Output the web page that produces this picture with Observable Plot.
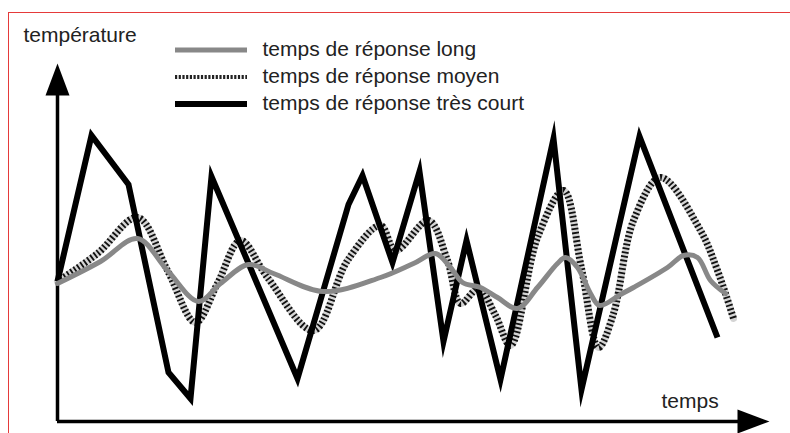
<!DOCTYPE html>
<html><head><meta charset="utf-8">
<script src="https://cdn.jsdelivr.net/npm/d3@7"></script>
<script src="https://cdn.jsdelivr.net/npm/@observablehq/plot@0.6"></script>
<style>
html,body{margin:0;padding:0;background:#fff;}
#wrap{position:relative;width:790px;height:433px;overflow:hidden;background:#fff;}
#frame{position:absolute;left:8px;top:12px;width:800px;height:440px;border-top:1px solid #e53a3a;border-left:1px solid #e53a3a;pointer-events:none;}
#chart{position:absolute;left:0;top:0;}
</style></head><body>
<div id="wrap"><div id="chart"></div><div id="frame"></div></div>
<script>
// Series names and axis labels
const seriesNames = ["temps de réponse long", "temps de réponse moyen", "temps de réponse très court"];
const yLabel = "température";
const xLabel = "temps";

// "très court" response (time, temperature) – arbitrary units
const courtT = [0, 34, 71, 111, 133, 154, 240, 291, 305, 335, 362, 386, 409, 443, 496, 524, 582, 660];
const courtV = [140, 286, 237, 49, 23, 245, 43, 217, 246, 159, 250, 80, 181, 42, 283, 32, 285, 84];

// "moyen" response
const moyenT = [0, 40, 80, 110, 138, 160, 183, 210, 256, 290, 323, 338, 371, 390, 403, 421, 438, 453, 480, 506, 524, 541, 556, 576, 603, 643, 660, 676];
const moyenV = [140, 168, 204, 151, 99, 138, 181, 144, 91, 161, 196, 171, 201, 161, 118, 133, 106, 76, 184, 231, 153, 74, 108, 201, 244, 191, 151, 103];

// "long" response
const longT = [0, 43, 80, 110, 141, 163, 191, 216, 266, 323, 356, 378, 393, 405, 423, 440, 460, 480, 500, 508, 520, 533, 542, 563, 576, 610, 626, 640, 653, 668];
const longV = [138, 160, 183, 151, 120, 138, 157, 148, 130, 144, 158, 168, 154, 139, 134, 124, 113, 134, 158, 164, 154, 128, 116, 127, 134, 154, 166, 164, 141, 128];

// axis extents (data units)
const yAxisTip = 358;
const xAxisTip = 712;
const arrowLen = 32;

const zip = (T, V) => T.map((t, i) => ({t, v: V[i]}));
const court = zip(courtT, courtV);
const moyen = zip(moyenT, moyenV);
const long = zip(longT, longV);

const arrowSymbol = {
  draw(ctx) {
    ctx.moveTo(0, -16);
    ctx.lineTo(12, 16);
    ctx.lineTo(-12, 16);
    ctx.closePath();
  }
};

const plot = Plot.plot({
  width: 790,
  height: 433,
  margin: 0,
  x: {domain: [-57, 733], axis: null},
  y: {domain: [-12, 421], axis: null},
  style: {background: "transparent", fontFamily: "'Liberation Sans', Arial, sans-serif"},
  marks: [
    Plot.ruleX([0], {y1: 0, y2: yAxisTip - arrowLen + 1, stroke: "#000", strokeWidth: 3.5}),
    Plot.ruleY([0], {x1: 0, x2: xAxisTip - arrowLen + 1, stroke: "#000", strokeWidth: 3.5}),
    Plot.dot([{t: 0, v: yAxisTip - arrowLen / 2}], {x: "t", y: "v", symbol: arrowSymbol, fill: "#000", stroke: "none", r: 10}),
    Plot.dot([{t: xAxisTip - arrowLen / 2, v: 0}], {x: "t", y: "v", symbol: arrowSymbol, fill: "#000", stroke: "none", r: 10, rotate: 90}),
    Plot.line(moyen, {x: "t", y: "v", curve: "catmull-rom", stroke: "#d4d4d4", strokeWidth: 7}),
    Plot.line(moyen, {x: "t", y: "v", curve: "catmull-rom", stroke: "#111", strokeWidth: 7, strokeDasharray: "1.8,2.3", className: "moyen-dash"}),
    Plot.line(court, {x: "t", y: "v", curve: "linear", stroke: "#000", strokeWidth: 6, strokeLinejoin: "miter", strokeMiterlimit: 40, strokeLinecap: "butt"}),
    Plot.line(long, {x: "t", y: "v", curve: "catmull-rom", stroke: "#888", strokeWidth: 5})
  ]
});
document.getElementById("chart").appendChild(plot);

// hatch dashes need butt caps (Plot lines default to round caps)
const svg = d3.select(plot);
svg.selectAll(".moyen-dash, .moyen-dash path")
  .attr("stroke-dasharray", "1.8,2.3")
  .attr("stroke-linecap", "butt")
  .style("stroke-linecap", "butt");

// Labels and legend overlaid on the SVG
const g = svg.append("g")
  .attr("font-family", "'Liberation Sans', Arial, sans-serif")
  .attr("font-size", 21)
  .attr("text-anchor", "start")
  .attr("fill", "#222");
g.append("text").attr("x", 23.5).attr("y", 42).attr("text-anchor", "start").text(yLabel);
g.append("text").attr("x", 661.5).attr("y", 408).attr("text-anchor", "start").text(xLabel);

const legendStyles = [
  {stroke: "#888", width: 5, dash: null},
  {stroke: "#222", width: 4, dash: "2.2,1.5"},
  {stroke: "#000", width: 6, dash: null}
];
seriesNames.forEach((name, i) => {
  const cy = 50 + i * 27;
  const s = legendStyles[i];
  g.append("line").attr("x1", 175).attr("x2", 247).attr("y1", cy).attr("y2", cy)
    .attr("stroke", s.stroke).attr("stroke-width", s.width).attr("stroke-dasharray", s.dash)
    .attr("stroke-linecap", "butt");
  g.append("text").attr("x", 262.5).attr("y", cy + 6).attr("text-anchor", "start").text(name);
});
</script>
</body></html>
